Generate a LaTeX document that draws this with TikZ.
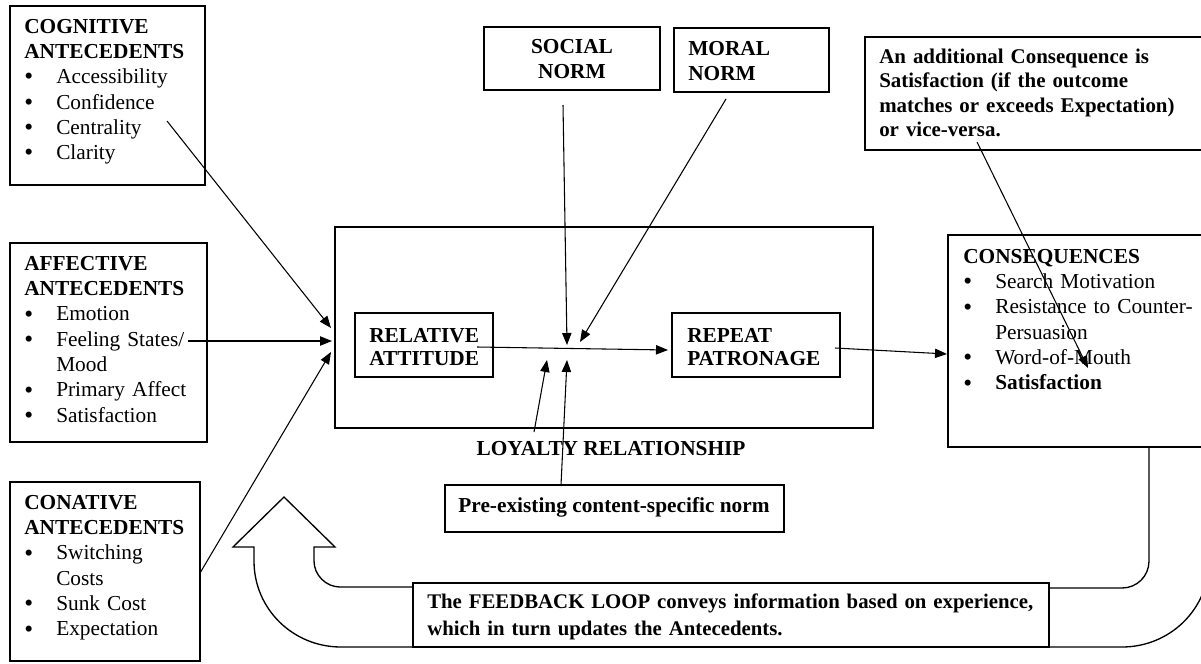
\documentclass[tikz,border=0pt]{standalone}
\usepackage{fontspec}
\setmainfont{Liberation Serif}
\usetikzlibrary{arrows.meta,fit}
\newcommand\topstrut{\rule{0pt}{12pt}}
\newcommand\bul{\makebox[24pt][l]{\raisebox{-0.8pt}{\fontsize{19}{19}\selectfont\textbullet}}}
\newcommand\ind{\hspace*{24pt}}
\begin{document}
\begin{tikzpicture}[x=0.75pt,y=-0.75pt,
  box/.style={draw, line width=1.1pt, inner sep=0pt},
  txt/.style={inner sep=0pt, align=left, text width=330pt, anchor=north west, font=\fontsize{16}{19}\selectfont},
  ctxt/.style={inner sep=0pt, align=center, anchor=north, font=\fontsize{16}{19}\selectfont\bfseries},
  arr/.style={line width=0.8pt, -{Triangle[length=9pt,width=7pt]}},
  bigarrow/.style={line width=1pt, line join=miter}]
\path[use as bounding box] (0,0) rectangle (1201,663);
\clip (0,0) rectangle (1201,663);
\fill[white] (0,0) rectangle (1201,663);

% big feedback arrow
\draw[bigarrow] (413,587) -- (340,587) .. controls (326,587) and (314,575) .. (314,561) -- (314,547)
  -- (335,547) -- (284,497) -- (233,547) -- (254,547) -- (254,561)
  .. controls (254,609) and (293,647) .. (341,647) -- (1122,647)
  .. controls (1170,647) and (1209,609) .. (1209,561) -- (1209,430);
\draw[bigarrow] (1149,447) -- (1149,561) .. controls (1149,576) and (1137,588) .. (1122,588) -- (1049,588);

% boxes
\node[box, fit={(10,6) (205,185)}] (cog) {};
\node[box, fit={(10,243) (207,442)}] (aff) {};
\node[box, fit={(10,482) (200,661)}] (con) {};
\node[box, fit={(335,227) (873,428)}] (loy) {};
\node[box, fit={(355,313) (493,377)}] (rel) {};
\node[box, fit={(672,313) (840,377)}] (rep) {};
\node[box, fit={(484,27) (660,90)}] (soc) {};
\node[box, fit={(674,28) (829,92)}] (mor) {};
\node[box, fill=white, fit={(865,37) (1215,150)}] (add) {};
\node[box, fit={(948,235) (1215,447)}] (cons) {};
\node[box, fit={(445,485) (784,532)}] (pre) {};
\node[box, fill=white, fit={(413,583) (1049,647)}] (fb) {};

% texts
\node[txt] (cogt) at (24,17) {\topstrut\textbf{COGNITIVE}\\\textbf{ANTECEDENTS}\\\bul Accessibility\\\bul Confidence\\\bul Centrality\\\bul Clarity};
\node[txt] (afft) at (24,254) {\topstrut\textbf{AFFECTIVE}\\\textbf{ANTECEDENTS}\\\bul Emotion\\\bul Feeling States/\\\ind Mood\\\bul Primary Affect\\\bul Satisfaction};
\node[txt] (cont) at (24,493) {\topstrut\textbf{CONATIVE}\\\textbf{ANTECEDENTS}\\\bul Switching\\\ind Costs\\\bul Sunk Cost\\\bul Expectation};
\node[txt] (const) at (963,247) {\topstrut\textbf{CONSEQUENCES}\\\bul Search Motivation\\\bul Resistance to Counter-\\\ind Persuasion\\\bul Word-of-Mouth\\\bul \textbf{Satisfaction}};
\node[txt, font=\fontsize{16}{17.3}\selectfont\bfseries] (relt) at (369,326) {\topstrut RELATIVE\\ATTITUDE};
\node[txt, font=\fontsize{16}{17.3}\selectfont\bfseries] (rept) at (687,326) {\topstrut REPEAT\\PATRONAGE};
\node[ctxt] (soct) at (572,37) {\topstrut SOCIAL\\NORM};
\node[txt, font=\fontsize{16}{19}\selectfont\bfseries] (mort) at (688,39) {\topstrut MORAL\\NORM};
\node[txt, font=\fontsize{15.7}{18.4}\selectfont\bfseries] (addt) at (879,47) {\topstrut An additional Consequence is\\Satisfaction (if the outcome\\matches or exceeds Expectation)\\or vice-versa.};
\node[ctxt] (loyt) at (611,439) {\topstrut LOYALTY RELATIONSHIP};
\node[ctxt] (pret) at (614,496) {\topstrut Pre-existing content-specific norm};
\node[txt, text width=480pt, font=\fontsize{15.6}{20.2}\selectfont\bfseries] (fbt) at (427,592) {\topstrut The FEEDBACK LOOP conveys information based on experience,\\which in turn updates the Antecedents.};

% connector coordinates
\coordinate (cogS) at (167,121);
\coordinate (affS) at (188,341);
\coordinate (conS) at (200,573);
\coordinate (tipA) at (331,328);
\coordinate (tipB) at (332,341);
\coordinate (tipC) at (331,352);
\coordinate (relS) at (477,347);
\coordinate (repE) at (668,350);
\coordinate (repS) at (835,348);
\coordinate (consE) at (947,354);
\coordinate (socS) at (563,105);
\coordinate (socE) at (567,345);
\coordinate (morS) at (726,99);
\coordinate (morE) at (580,342);
\coordinate (loyS) at (534,432);
\coordinate (loyE) at (547,360);
\coordinate (preS) at (561,485);
\coordinate (preE) at (567,360);
\coordinate (addS) at (977,142);
\coordinate (addE) at (1088,368);

\draw[arr] (cogS) -- (tipA);
\draw[arr] (affS) -- (tipB);
\draw[arr] (conS) -- (tipC);
\draw[arr] (relS) -- (repE);
\draw[arr] (repS) -- (consE);
\draw[arr] (socS) -- (socE);
\draw[arr] (morS) -- (morE);
\draw[arr] (loyS) -- (loyE);
\draw[arr] (preS) -- (preE);
\draw[arr] (addS) -- (addE);
\end{tikzpicture}
\end{document}
